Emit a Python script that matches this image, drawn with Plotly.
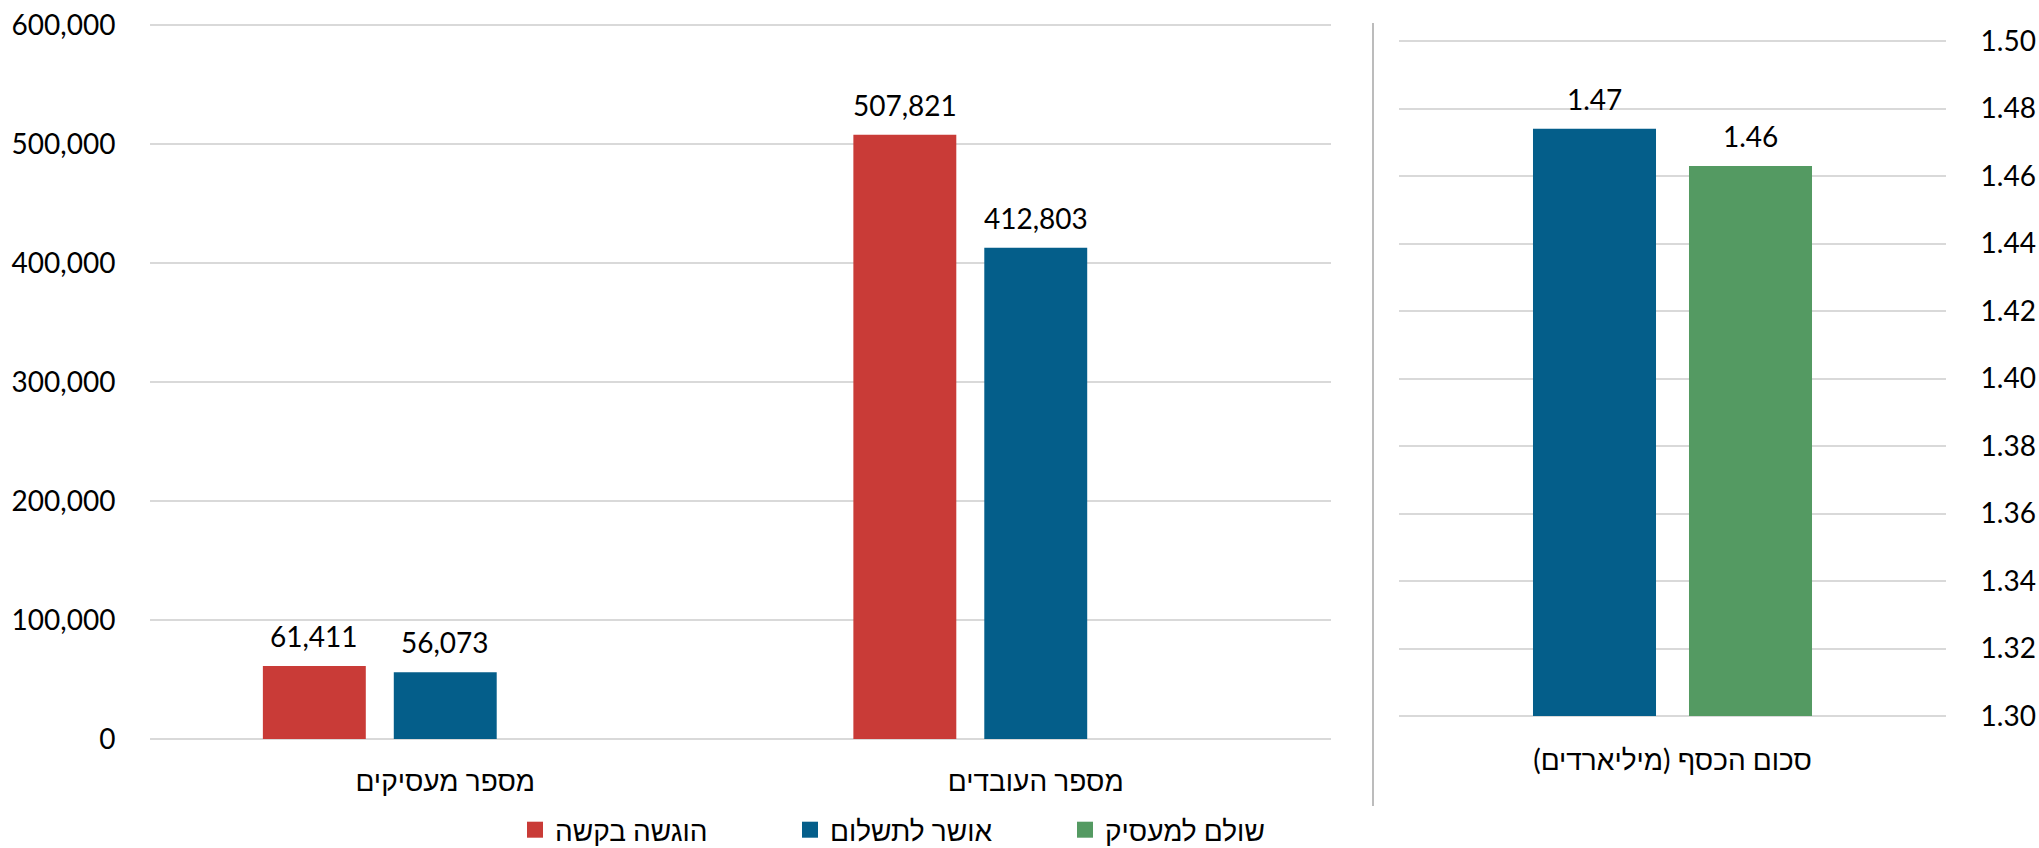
import plotly.graph_objects as go

# ---- data ----
left_categories = ["מספר מעסיקים", "מספר העובדים"]
submitted = [61411, 507821]          # הוגשה בקשה
approved = [56073, 412803]           # אושר לתשלום

right_categories = ["סכום הכסף (מיליארדים)"]
approved_money = [1.474]             # אושר לתשלום (billions)
paid_money = [1.463]                 # שולם למעסיק (billions)

series_names = ["הוגשה בקשה", "אושר לתשלום", "שולם למעסיק"]
colors = ["#C93B37", "#045E8A", "#549A62"]

left_ticks = [0, 100000, 200000, 300000, 400000, 500000, 600000]
right_ticks = [1.30, 1.32, 1.34, 1.36, 1.38, 1.40, 1.42, 1.44, 1.46, 1.48, 1.50]

# ---- style ----
W, H = 2039, 848
FONT = "Lato, 'Liberation Sans', sans-serif"
FS = 28
GRID = "#D9D9D9"
PADPX = 3  # extra px so the edge gridlines are drawn

# left: bar geometry in category units
L_D, L_W = 0.2217, 0.1743
# right
R_D, R_W = 0.2852, 0.2249
R_BASE = right_ticks[0]


def y_setup(lo, hi, top_px, bottom_px):
    """domain + range so that lo sits at bottom_px and hi at top_px."""
    span_px = bottom_px - top_px
    pad = (hi - lo) * PADPX / span_px
    dom = [(H - bottom_px - PADPX) / H, (H - top_px + PADPX) / H]
    return dom, [lo - pad, hi + pad]


fig = go.Figure()

left_x = list(range(len(left_categories)))
fig.add_trace(go.Bar(x=left_x, y=submitted, name=series_names[0], marker_color=colors[0],
                     width=L_W, offset=-L_D - L_W / 2, xaxis="x", yaxis="y",
                     showlegend=False, marker_line_width=0))
fig.add_trace(go.Bar(x=left_x, y=approved, name=series_names[1], marker_color=colors[1],
                     width=L_W, offset=-L_W / 2, xaxis="x", yaxis="y",
                     showlegend=False, marker_line_width=0))

right_x = list(range(len(right_categories)))
fig.add_trace(go.Bar(x=right_x, y=[v - R_BASE for v in approved_money], base=R_BASE,
                     name=series_names[1], marker_color=colors[1],
                     width=R_W, offset=-R_D / 2 - R_W / 2, xaxis="x2", yaxis="y2",
                     showlegend=False, marker_line_width=0))
fig.add_trace(go.Bar(x=right_x, y=[v - R_BASE for v in paid_money], base=R_BASE,
                     name=series_names[2], marker_color=colors[2],
                     width=R_W, offset=R_D / 2 - R_W / 2, xaxis="x2", yaxis="y2",
                     showlegend=False, marker_line_width=0))

# legend-only entries
for name, c in zip(series_names, colors):
    fig.add_trace(go.Scatter(x=[None], y=[None], mode="markers", name=name,
                             marker=dict(symbol="square", size=16, color=c),
                             xaxis="x", yaxis="y", showlegend=True, hoverinfo="skip"))

# data labels
lab_font = dict(size=FS, color="#000", family=FONT)
ann = []
for i, v in enumerate(submitted):
    ann.append(dict(x=i - L_D, y=v, xref="x", yref="y", text=f"{v:,}", showarrow=False,
                    yanchor="middle", yshift=30, font=lab_font))
for i, v in enumerate(approved):
    ann.append(dict(x=i, y=v, xref="x", yref="y", text=f"{v:,}", showarrow=False,
                    yanchor="middle", yshift=30, font=lab_font))
for i, v in enumerate(approved_money):
    ann.append(dict(x=i - R_D / 2, y=v, xref="x2", yref="y2", text=f"{v:.2f}", showarrow=False,
                    yanchor="middle", yshift=30, font=lab_font))
for i, v in enumerate(paid_money):
    ann.append(dict(x=i + R_D / 2, y=v, xref="x2", yref="y2", text=f"{v:.2f}", showarrow=False,
                    yanchor="middle", yshift=30, font=lab_font))

ydom1, yr1 = y_setup(left_ticks[0], left_ticks[-1], 25, 739)
ydom2, yr2 = y_setup(right_ticks[0], right_ticks[-1], 41, 716)

fig.update_layout(
    width=W, height=H,
    margin=dict(l=0, r=0, t=0, b=0, pad=0, autoexpand=False),
    paper_bgcolor="white", plot_bgcolor="white",
    font=dict(family=FONT, size=FS, color="#000"),
    barmode="overlay",
    showlegend=True,
    legend=dict(orientation="h", x=515 / W, xanchor="left", y=(H - 830) / H, yanchor="middle",
                font=dict(size=FS, family=FONT, color="#000"), entrywidth=230,
                entrywidthmode="pixels", itemclick=False, traceorder="normal",
                bgcolor="rgba(0,0,0,0)"),
    xaxis=dict(domain=[150 / W, 1331 / W], range=[-0.5, 1.5], tickmode="array",
               tickvals=left_x, ticktext=left_categories, showgrid=False, zeroline=False,
               showline=False, ticks="outside", ticklen=17 - PADPX, tickcolor="rgba(0,0,0,0)",
               fixedrange=True),
    yaxis=dict(domain=ydom1, range=yr1,
               tickmode="array", tickvals=left_ticks, tickformat=",", showgrid=True,
               gridcolor=GRID, gridwidth=2, zeroline=False, showline=False, ticks="outside",
               ticklen=28, tickcolor="rgba(0,0,0,0)", fixedrange=True),
    xaxis2=dict(domain=[1399 / W, 1946 / W], range=[-0.5, 0.5], tickmode="array",
                tickvals=right_x, ticktext=right_categories, showgrid=False, zeroline=False,
                showline=False, ticks="outside", ticklen=19 - PADPX, tickcolor="rgba(0,0,0,0)",
                anchor="y2", fixedrange=True),
    yaxis2=dict(domain=ydom2, range=yr2,
                tickmode="array", tickvals=right_ticks, tickformat=".2f", side="right",
                anchor="x2", showgrid=True, gridcolor=GRID, gridwidth=2, zeroline=False,
                showline=False, ticks="outside", ticklen=28, tickcolor="rgba(0,0,0,0)",
                fixedrange=True),
    annotations=ann,
    shapes=[dict(type="line", xref="paper", yref="paper", x0=1373 / W, x1=1373 / W,
                 y0=(H - 806) / H, y1=(H - 23) / H, line=dict(color="#A6A6A6", width=1.5))],
)

fig.write_html("out.html", config={"displayModeBar": False},
               post_script="document.body.style.margin='0';document.body.style.overflow='hidden';")
